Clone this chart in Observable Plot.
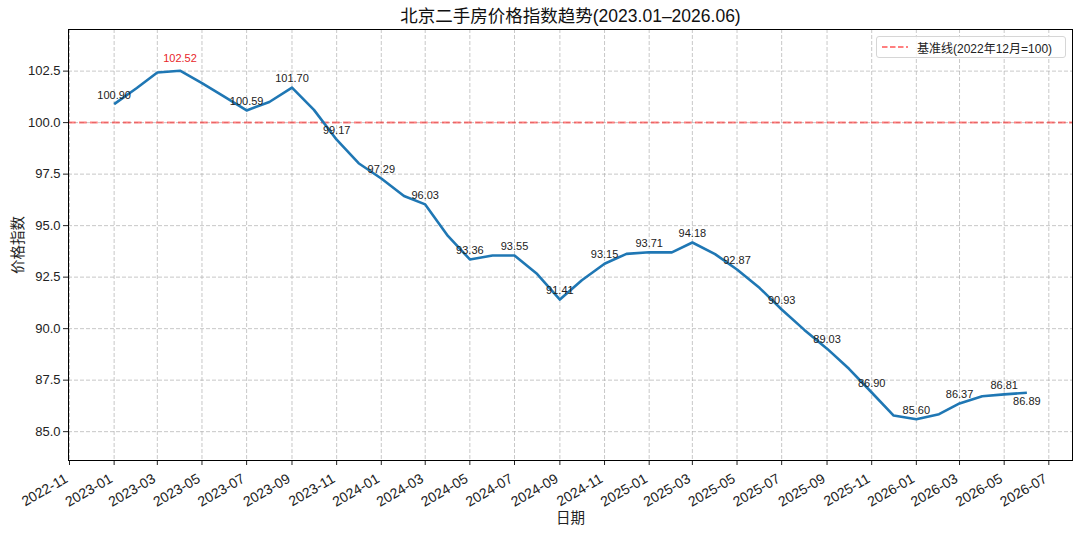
<!DOCTYPE html>
<html>
<head>
<meta charset="utf-8">
<script src="https://cdn.jsdelivr.net/npm/d3@7"></script>
<script src="https://cdn.jsdelivr.net/npm/@observablehq/plot@0.6"></script>
<style>
  html, body { margin: 0; padding: 0; background: #fff; }
  #wrap { position: relative; width: 1080px; height: 534px; font-family: "Liberation Sans", "Noto Sans CJK SC", sans-serif; }
  #legend { position: absolute; left: 876px; top: 36px; width: 188px; height: 20px; border: 1px solid #d6d6d6; border-radius: 3px; background: rgba(255,255,255,0.85); display: flex; align-items: center; font-size: 12px; color: #222; white-space: nowrap; }
  #legend svg { margin-left: 5px; margin-right: 9px; }
</style>
</head>
<body>
<div id="wrap"></div>
<script>
const months = ["2023-01","2023-02","2023-03","2023-04","2023-05","2023-06","2023-07","2023-08","2023-09","2023-10","2023-11","2023-12",
  "2024-01","2024-02","2024-03","2024-04","2024-05","2024-06","2024-07","2024-08","2024-09","2024-10","2024-11","2024-12",
  "2025-01","2025-02","2025-03","2025-04","2025-05","2025-06","2025-07","2025-08","2025-09","2025-10","2025-11","2025-12",
  "2026-01","2026-02","2026-03","2026-04","2026-05","2026-06"];
const values = [100.90,101.68,102.43,102.52,101.92,101.25,100.59,101.00,101.70,100.62,99.17,98.03,
  97.29,96.44,96.03,94.50,93.36,93.55,93.55,92.65,91.41,92.35,93.15,93.63,
  93.71,93.70,94.18,93.62,92.87,91.97,90.93,89.94,89.03,88.05,86.90,85.78,
  85.60,85.85,86.37,86.72,86.81,86.89];
const labeledMonths = ["2023-01","2023-07","2023-09","2023-11","2024-01","2024-03","2024-05","2024-07","2024-09","2024-11",
  "2025-01","2025-03","2025-05","2025-07","2025-09","2025-11","2026-01","2026-03","2026-05"];
const maxMonth = "2023-04";
const lastMonth = "2026-06";
const xTickLabels = ["2022-11","2023-01","2023-03","2023-05","2023-07","2023-09","2023-11","2024-01","2024-03","2024-05","2024-07","2024-09","2024-11",
  "2025-01","2025-03","2025-05","2025-07","2025-09","2025-11","2026-01","2026-03","2026-05","2026-07"];
const yTicks = [85, 87.5, 90, 92.5, 95, 97.5, 100, 102.5];
const baseline = 100;
const titleText = "北京二手房价格指数趋势(2023.01–2026.06)";
const legendText = "基准线(2022年12月=100)";

const parse = d3.utcParse("%Y-%m");
const data = months.map((m, i) => ({month: m, date: parse(m), value: values[i]}));
const labeled = data.filter(d => labeledMonths.includes(d.month));
const maxPt = data.filter(d => d.month === maxMonth);
const lastPt = data.filter(d => d.month === lastMonth);
const xTicks = xTickLabels.map(parse);

// matplotlib-like 5% x margins, y limits min-2 / max+2
const t0 = data[0].date.getTime(), t1 = data[data.length - 1].date.getTime();
const pad = (t1 - t0) * 0.05;
const yMin = d3.min(values) - 2, yMax = d3.max(values) + 2;

const font = '"Liberation Sans", "Noto Sans CJK SC", sans-serif';
const gridStyle = {stroke: "#b0b0b0", strokeOpacity: 0.7, strokeWidth: 1, strokeDasharray: "4,2"};

const chart = Plot.plot({
  width: 1080,
  height: 534,
  marginTop: 29,
  marginBottom: 74,
  marginLeft: 68,
  marginRight: 8,
  style: {fontFamily: font, fontSize: "12px", color: "#222", background: "#fff"},
  x: {type: "utc", domain: [new Date(t0 - pad), new Date(t1 + pad)]},
  y: {domain: [yMin, yMax]},
  marks: [
    Plot.gridX(xTicks, gridStyle),
    Plot.gridY(yTicks, gridStyle),
    Plot.ruleY([baseline], {stroke: "red", strokeOpacity: 0.5, strokeWidth: 2, strokeDasharray: "7.7,3.3"}),
    Plot.line(data, {x: "date", y: "value", stroke: "#1f77b4", strokeWidth: 2.6, strokeLinejoin: "round", strokeLinecap: "butt"}),
    Plot.text(labeled, {x: "date", y: "value", text: d => d.value.toFixed(2), dy: -9, fontSize: 11, fill: "#222", textAnchor: "middle"}),
    Plot.text(maxPt, {x: "date", y: "value", text: d => d.value.toFixed(2), dy: -12, fontSize: 11, fill: "#e8262a", textAnchor: "middle"}),
    Plot.text(lastPt, {x: "date", y: "value", text: d => d.value.toFixed(2), dy: 9, fontSize: 11, fill: "#222", textAnchor: "middle"}),
    Plot.axisX(xTicks, {tickSize: 5, text: null, label: null}),
    Plot.axisX(xTicks, {tickFormat: d3.utcFormat("%Y-%m"), tickRotate: -30, tickSize: 0, tickPadding: 17, dx: -3, fontSize: 14,
      label: "日期", labelAnchor: "center", labelArrow: "none", labelOffset: 62}),
    Plot.axisY(yTicks, {tickFormat: d => d.toFixed(1), tickSize: 5, tickPadding: 3, fontSize: 13,
      label: "价格指数", labelAnchor: "center", labelArrow: "none", labelOffset: 56}),
    Plot.frame({stroke: "#000", strokeWidth: 1}),
    Plot.text([titleText], {frameAnchor: "top", dy: -13, fontSize: 17.5, fill: "#111", lineAnchor: "middle"})
  ]
});

const wrap = document.getElementById("wrap");
wrap.appendChild(chart);
chart.querySelectorAll("text").forEach(t => {
  if (t.textContent === "日期" || t.textContent === "价格指数") t.style.fontSize = "14.5px";
});

const legend = document.createElement("div");
legend.id = "legend";
legend.innerHTML = '<svg width="26" height="6"><line x1="0" y1="3" x2="26" y2="3" stroke="red" stroke-opacity="0.5" stroke-width="2" stroke-dasharray="5.5,2.5"/></svg><span>' + legendText + '</span>';
wrap.appendChild(legend);
</script>
</body>
</html>
